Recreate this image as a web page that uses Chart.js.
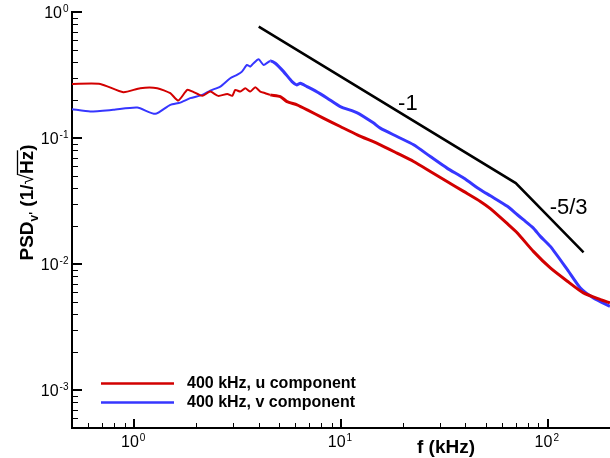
<!DOCTYPE html>
<html><head><meta charset="utf-8">
<script src="https://cdn.jsdelivr.net/npm/chart.js@4"></script>
<style>html,body{margin:0;padding:0;background:#fff;overflow:hidden}#wrap{width:610px;height:458px;position:relative}</style>
</head><body><div id="wrap"><canvas id="c" width="610" height="458"></canvas></div>
<script>
// ---- data (frequency in kHz, PSD in 1/sqrt(Hz)) ----
const uFreq = [0.5,0.685,0.885,1.069,1.292,1.494,1.633,1.805,1.929,2.133,2.332,2.549,2.818,2.979,3.081,3.257,3.443,3.641,3.849,4.07,4.303,4.55,5.087,5.481,6.127,6.871,8.21,9.92,11.99,15.49,18.66,22.45,27.04,32.57,39.19,47.2,52.77,63.76,71.29,85.19,102.9,124.4,148.7,179.7,200];
const uPSD  = [0.2688,0.2688,0.2310,0.2485,0.2485,0.2268,0.1982,0.2409,0.2322,0.2160,0.2335,0.2160,0.2239,0.2160,0.2409,0.2335,0.2485,0.2335,0.2531,0.2335,0.2268,0.2199,0.2132,0.1946,0.1833,0.1673,0.1438,0.1234,0.1060,0.0883,0.0759,0.0651,0.0543,0.0452,0.0377,0.0314,0.0275,0.0209,0.01764,0.0126,0.00931,0.00730,0.00590,0.00522,0.00492];
const vFreq = [0.5,0.6125,0.791,1.034,1.264,1.494,1.669,1.866,2.133,2.332,2.607,2.913,3.14,3.319,3.509,3.641,3.777,3.994,4.222,4.55,4.81,5.277,5.795,6.127,6.356,6.847,7.51,8.585,9.92,11.99,14.33,15.49,18.66,22.45,27.04,32.57,39.19,47.2,52.77,63.76,71.29,76.21,85.19,92.08,102.9,124.4,143.8,166.2,200];
const vPSD  = [0.1694,0.1622,0.1673,0.1744,0.1555,0.1833,0.1911,0.2071,0.2199,0.2378,0.2559,0.2983,0.3168,0.3364,0.3802,0.3685,0.3922,0.4218,0.3802,0.4089,0.3922,0.3364,0.2804,0.2639,0.2723,0.2559,0.2366,0.2071,0.1777,0.1584,0.1319,0.1198,0.1028,0.0883,0.0713,0.0577,0.0481,0.0389,0.0348,0.0287,0.0246,0.0225,0.0193,0.01658,0.01381,0.00903,0.00646,0.00539,0.00462];
const refFreq = [4, 70, 149];
const refPSD  = [0.765, 0.0439, 0.0124];
const slopeLabels = ['-1', '-5/3'];
const slopeLabelFreq = [21.05, 126.2];
const slopeLabelPSD  = [0.1673, 0.02508];
const seriesNames = ['400 kHz, u component', '400 kHz, v component'];
const xExponents = [0, 1, 2];
const yExponents = [-3, -2, -1, 0];
const X_MIN = 0.5, X_MAX = 200, Y_MIN = 5e-4, Y_MAX = 1;

const RED = '#d20000', BLUE = '#3636ff';
const FONT = '"Liberation Sans", Arial, Helvetica, sans-serif';
const pts = (xs, ys) => xs.map((x, i) => ({x, y: ys[i]}));
// noisier (thicker-looking) band above ~4 kHz, as in the measured spectra
const segWidth = c => (c.p0.parsed.x >= 4.5 ? 3 : 2);

const decor = {
  id: 'decor',
  afterDraw(chart) {
    const ctx = chart.ctx, xs = chart.scales.x, ys = chart.scales.y, ca = chart.chartArea;
    ctx.save();
    ctx.strokeStyle = '#000'; ctx.fillStyle = '#000';
    for (let e = -1; e <= 2; e++) for (let m = 1; m <= 9; m++) {
      const v = m * Math.pow(10, e);
      if (v <= X_MIN * 1.0001 || v >= X_MAX * 0.9999) continue;
      const px = Math.round(xs.getPixelForValue(v));
      const major = m === 1;
      ctx.lineWidth = major ? 2 : 1;
      ctx.beginPath();
      ctx.moveTo(major ? px : px + 0.5, ca.bottom);
      ctx.lineTo(major ? px : px + 0.5, ca.bottom - (major ? 9 : 5));
      ctx.stroke();
    }
    for (let e = -4; e <= 0; e++) for (let m = 1; m <= 9; m++) {
      const v = m * Math.pow(10, e);
      if (v <= Y_MIN * 1.0001 || v > Y_MAX * 1.0001) continue;
      const py = Math.round(ys.getPixelForValue(v));
      const major = m === 1;
      ctx.lineWidth = major ? 2 : 1;
      ctx.beginPath();
      ctx.moveTo(ca.left, major ? py : py + 0.5);
      ctx.lineTo(ca.left + (major ? 10 : 6), major ? py : py + 0.5);
      ctx.stroke();
    }
    const big = '16px ' + FONT, sup = '10px ' + FONT;
    ctx.textBaseline = 'alphabetic'; ctx.textAlign = 'left';
    xExponents.forEach(e => {
      const px = xs.getPixelForValue(Math.pow(10, e));
      ctx.font = big; const w1 = ctx.measureText('10').width;
      ctx.font = sup; const w2 = ctx.measureText(String(e)).width;
      const x0 = px - (w1 + 1 + w2) / 2 - 1;
      ctx.font = big; ctx.fillText('10', x0, 447);
      ctx.font = sup; ctx.fillText(String(e), x0 + w1 + 1, 441);
    });
    yExponents.forEach(e => {
      const py = ys.getPixelForValue(Math.pow(10, e));
      const s = e < 0 ? '-' + Math.abs(e) : String(e);
      ctx.font = sup; const w2 = ctx.measureText(s).width;
      ctx.font = big; const w1 = ctx.measureText('10').width;
      const right = 68.5;
      ctx.font = big; ctx.fillText('10', right - w2 - 1 - w1, py + 5.5);
      ctx.font = sup; ctx.fillText(s, right - w2, py - 0.5);
    });
    ctx.font = 'bold 19px ' + FONT; ctx.textAlign = 'center';
    ctx.fillText('f (kHz)', 446, 452.5);
    ctx.save();
    ctx.translate(33, 202.5); ctx.rotate(-Math.PI / 2);
    ctx.textAlign = 'left';
    const B = 'bold 19px ' + FONT, S = 'bold 12px ' + FONT;
    const parts = [
      {t: 'PSD', f: B, dy: 0}, {t: "v'", f: S, dy: 5}, {t: ' (1/', f: B, dy: 0},
      {t: '\u221A', f: '19px ' + FONT, dy: 0, root: true}, {t: 'Hz', f: B, dy: 0, over: true}, {t: ')', f: B, dy: 0}
    ];
    let total = 0;
    parts.forEach(p => { ctx.font = p.f; p.w = ctx.measureText(p.t).width; total += p.w; });
    let x = -total / 2, os = 0, oe = 0;
    parts.forEach(p => { ctx.font = p.f; ctx.fillText(p.t, x, p.dy); if (p.root) os = x + p.w - 1; if (p.over) oe = x + p.w; x += p.w; });
    ctx.lineWidth = 1.3; ctx.beginPath(); ctx.moveTo(os, -15.5); ctx.lineTo(oe + 0.5, -15.5); ctx.stroke();
    ctx.restore();
    ctx.font = '22px ' + FONT; ctx.textAlign = 'center'; ctx.textBaseline = 'alphabetic';
    slopeLabels.forEach((s, i) => {
      ctx.fillText(s, xs.getPixelForValue(slopeLabelFreq[i]), ys.getPixelForValue(slopeLabelPSD[i]));
    });
    const ly = [383.5, 402.5], lc = [RED, BLUE];
    ctx.font = 'bold 16px ' + FONT; ctx.textAlign = 'left'; ctx.textBaseline = 'middle';
    seriesNames.forEach((n, i) => {
      ctx.strokeStyle = lc[i]; ctx.lineWidth = 2.5;
      ctx.beginPath(); ctx.moveTo(101, ly[i]); ctx.lineTo(174, ly[i]); ctx.stroke();
      ctx.fillStyle = '#000'; ctx.fillText(n, 187, ly[i] + 0.5);
    });
    ctx.restore();
  }
};

new Chart(document.getElementById('c'), {
  type: 'line',
  data: {
    datasets: [
      {label: seriesNames[0], data: pts(uFreq, uPSD), borderColor: RED, borderWidth: 2, segment: {borderWidth: segWidth}, pointRadius: 0, tension: 0.2, fill: false},
      {label: seriesNames[1], data: pts(vFreq, vPSD), borderColor: BLUE, borderWidth: 2, segment: {borderWidth: segWidth}, pointRadius: 0, tension: 0.2, fill: false},
      {label: 'slope', data: pts(refFreq, refPSD), borderColor: '#000', borderWidth: 2.5, pointRadius: 0, tension: 0, fill: false}
    ]
  },
  options: {
    responsive: false, animation: false, devicePixelRatio: 1,
    layout: {padding: {left: 72, right: 0, top: 12, bottom: 30}},
    plugins: {legend: {display: false}, tooltip: {enabled: false}},
    scales: {
      x: {type: 'logarithmic', min: X_MIN, max: X_MAX, grid: {display: false, drawTicks: false},
          ticks: {display: false}, border: {display: true, color: '#000', width: 2}},
      y: {type: 'logarithmic', min: Y_MIN, max: Y_MAX, grid: {display: false, drawTicks: false},
          ticks: {display: false}, border: {display: true, color: '#000', width: 2}}
    }
  },
  plugins: [decor]
});
</script></body></html>
